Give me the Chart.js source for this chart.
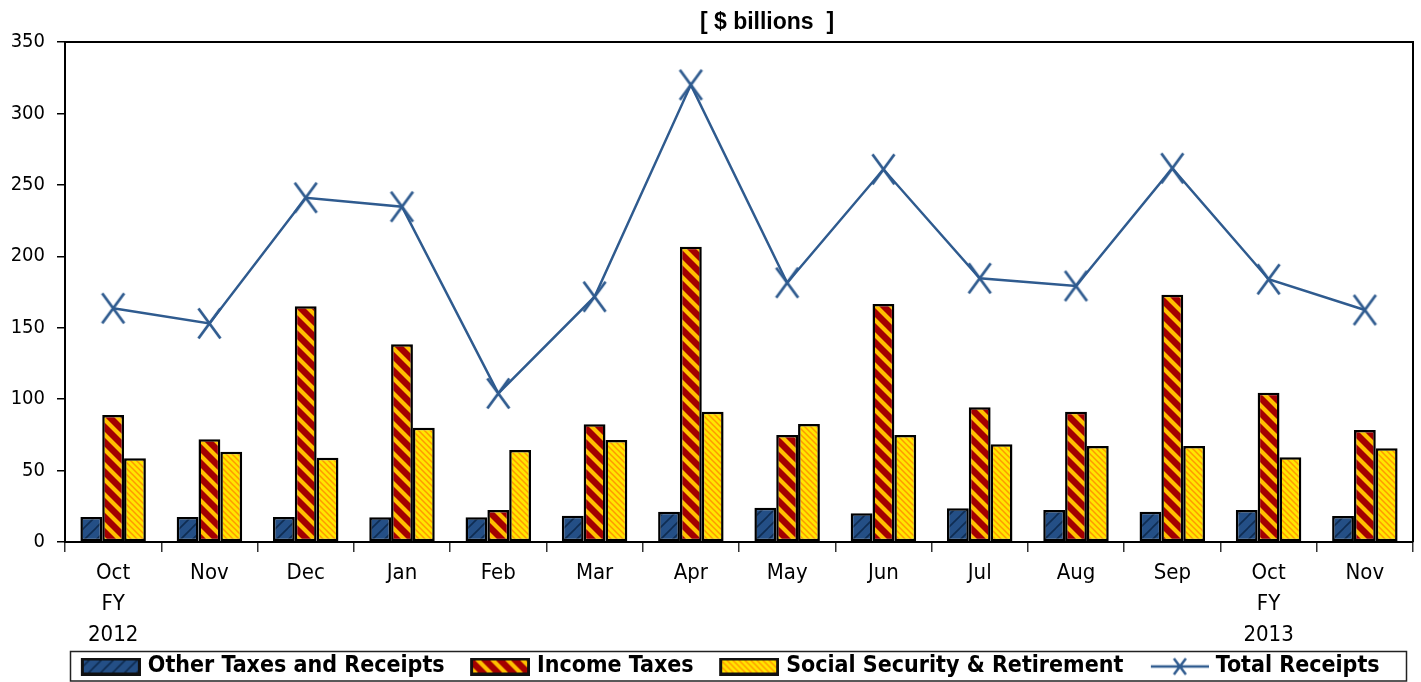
<!DOCTYPE html>
<html><head><meta charset="utf-8">
<script src="https://cdn.jsdelivr.net/npm/chart.js@4/dist/chart.umd.min.js"></script>
<style>html,body{margin:0;padding:0;background:#fff}#wrap{width:1421px;height:682px;position:relative}</style>
</head><body><div id="wrap"><canvas id="c" width="1421" height="682"></canvas></div>
<script>
// ---- data ----
const categories = [['Oct','FY','2012'],'Nov','Dec','Jan','Feb','Mar','Apr','May','Jun','Jul','Aug','Sep',['Oct','FY','2013'],'Nov'];
const otherTaxes = [17.5,17.5,17.5,17.3,17.3,18.4,21.2,24.0,20.1,23.6,22.4,21.2,22.4,18.2];
const incomeTaxes = [88.9,71.9,165.0,138.4,22.4,82.4,206.7,74.9,166.6,94.3,91.2,173.0,104.5,78.4];
const socialSecurity = [58.6,63.2,59.0,80.0,64.4,71.4,91.2,82.6,74.9,68.4,67.2,67.2,59.3,65.6];
const totalReceipts = [163.6,153.0,241.0,234.7,104.0,171.7,320.0,181.5,260.9,184.6,179.2,261.6,183.9,162.4];
const yTicks = [0,50,100,150,200,250,300,350];
const seriesNames = ['Other Taxes and Receipts','Income Taxes','Social Security & Retirement','Total Receipts'];
const chartTitle = '[ $ billions  ]';

// ---- styles ----
const NARROW = "'Liberation Sans Narrow','Arial Narrow','DejaVu Sans Condensed',sans-serif";
const LINE_COLOR = '#2f5b8f';
const mainCtx = document.getElementById('c').getContext('2d');

function stripeTile(size, bg, fg, lw, dir){
  const c=document.createElement('canvas'); c.width=c.height=size;
  const g=c.getContext('2d'); g.fillStyle=bg; g.fillRect(0,0,size,size);
  g.strokeStyle=fg; g.lineWidth=lw; g.lineCap='square';
  g.beginPath();
  for(let k=-1;k<=1;k++){
    if(dir==='\\'){ g.moveTo(k*size,0); g.lineTo(k*size+size,size); }
    else { g.moveTo(k*size,size); g.lineTo(k*size+size,0); }
  }
  g.stroke();
  return c;
}
const tiles = [
  stripeTile(12,'#244f86','#0f2c52',1.6,'/'),
  stripeTile(15,'#a30000','#ffc000',4.2,'\\'),
  stripeTile(6,'#ffe600','#ff9a00',1.5,'\\')
];
const patterns = tiles.map(t=>mainCtx.createPattern(t,'repeat'));

const LEG_W = 76;               // legend box width reserved per item
const IMG_W = LEG_W + 9;        // legend image width (transparent on the left)
function swatch(tile){
  const c=document.createElement('canvas'); c.width=IMG_W; c.height=18;
  const g=c.getContext('2d');
  const x0=IMG_W-60;
  g.fillStyle=g.createPattern(tile,'repeat'); g.fillRect(x0,0,60,18);
  g.strokeStyle='#111'; g.lineWidth=3; g.strokeRect(x0+1.5,1.5,57,15);
  return c;
}
function lineSwatch(){
  const c=document.createElement('canvas'); c.width=IMG_W; c.height=22;
  const g=c.getContext('2d'); g.strokeStyle=LINE_COLOR; g.lineWidth=2.5;
  const x0=IMG_W-58;
  g.beginPath(); g.moveTo(x0,11); g.lineTo(IMG_W,11);
  g.moveTo(x0+23,3); g.lineTo(x0+35,19); g.moveTo(x0+35,3); g.lineTo(x0+23,19); g.stroke();
  return c;
}
function crossImg(hw,hh,lw){
  const w=Math.ceil(2*hw+lw+2), h=Math.ceil(2*hh+lw+2);
  const c=document.createElement('canvas'); c.width=w; c.height=h;
  const g=c.getContext('2d'); g.strokeStyle=LINE_COLOR; g.lineWidth=lw;
  const cx=w/2, cy=h/2;
  g.beginPath(); g.moveTo(cx-hw,cy-hh); g.lineTo(cx+hw,cy+hh); g.moveTo(cx+hw,cy-hh); g.lineTo(cx-hw,cy+hh); g.stroke();
  return c;
}
const pointCross = crossImg(11,15,2.8);
const legendImgs = [swatch(tiles[0]),swatch(tiles[1]),swatch(tiles[2]),lineSwatch()];

const decor = {
  id:'decor',
  afterDraw(chart){
    const {ctx, chartArea:a} = chart;
    ctx.save();
    ctx.strokeStyle='#000'; ctx.lineWidth=2;
    ctx.beginPath(); ctx.moveTo(a.left,a.top); ctx.lineTo(a.right,a.top); ctx.lineTo(a.right,a.bottom); ctx.stroke();
    ctx.lineWidth=1.5; ctx.strokeStyle='#222';
    ctx.strokeRect(a.left+5.5, chart.height-30.5, a.right-a.left-12, 29.5);
    ctx.fillStyle='#000'; ctx.font="bold 23px 'Liberation Sans',Arial,sans-serif";
    ctx.textAlign='center'; ctx.textBaseline='middle';
    ctx.fillText(chartTitle, 767, 23);
    ctx.restore();
  }
};

Chart.defaults.font.family = NARROW;
Chart.defaults.color = '#000';

new Chart(mainCtx, {
  data:{
    labels: categories,
    datasets:[
      {type:'line', label:seriesNames[3], data:totalReceipts, borderColor:LINE_COLOR, backgroundColor:LINE_COLOR, borderWidth:2.5,
       pointStyle:pointCross, pointRadius:12, tension:0, fill:false, order:0},
      {type:'bar', label:seriesNames[0], data:otherTaxes, backgroundColor:patterns[0], borderColor:'#000', borderWidth:2.5, borderSkipped:false, order:1},
      {type:'bar', label:seriesNames[1], data:incomeTaxes, backgroundColor:patterns[1], borderColor:'#000', borderWidth:2.5, borderSkipped:false, order:1},
      {type:'bar', label:seriesNames[2], data:socialSecurity, backgroundColor:patterns[2], borderColor:'#000', borderWidth:2.5, borderSkipped:false, order:1}
    ]
  },
  options:{
    responsive:false, animation:false,
    layout:{autoPadding:false, padding:{top:42,left:11,right:-8,bottom:-6}},
    datasets:{bar:{categoryPercentage:0.68, barPercentage:1}},
    plugins:{
      title:{display:false}, tooltip:{enabled:false},
      legend:{
        position:'bottom',
        labels:{
          usePointStyle:true, pointStyleWidth:LEG_W, padding:5,
          font:{size:23, weight:'bold', family:NARROW}, color:'#000',
          generateLabels:()=>seriesNames.map((n,i)=>({text:n, pointStyle:legendImgs[i], fillStyle:'#fff', strokeStyle:'#000', lineWidth:0, hidden:false, datasetIndex:i===3?0:i+1, fontColor:'#000'}))
        }
      }
    },
    scales:{
      x:{
        grid:{offset:true, drawOnChartArea:false, tickLength:10, color:'#333', lineWidth:1.5},
        border:{color:'#000', width:2},
        ticks:{font:{size:22, lineHeight:1.41}, padding:6, maxRotation:0, autoSkip:false},
        afterFit:(s)=>{ s.height = 108; s.paddingLeft = 0; s.paddingRight = 8; }
      },
      y:{
        min:0, max:350,
        afterBuildTicks:(s)=>{ s.ticks = yTicks.map(v=>({value:v})); },
        grid:{drawOnChartArea:false, tickLength:8, color:'#000', lineWidth:1.5},
        border:{color:'#000', width:2},
        ticks:{font:{size:20}, padding:12},
        afterFit:(s)=>{ s.width = 54; }
      }
    }
  },
  plugins:[decor]
});
</script></body></html>
